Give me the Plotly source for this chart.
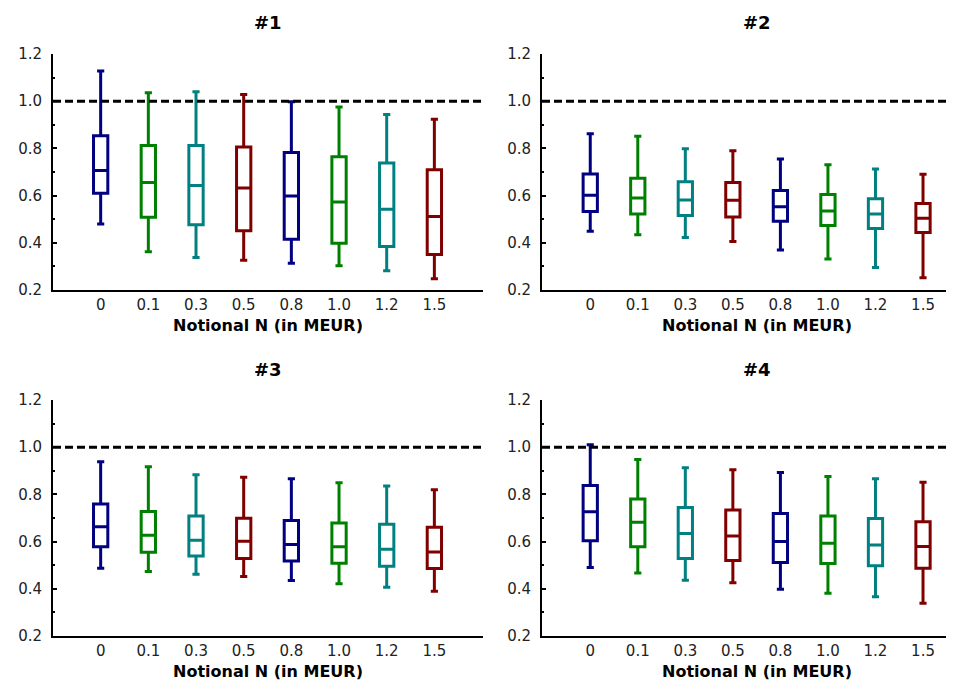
import plotly.graph_objects as go

categories = ["0", "0.1", "0.3", "0.5", "0.8", "1.0", "1.2", "1.5"]
colors = ["#000080", "#008000", "#008080", "#800000"] * 2

# panel 1
p1_upper = [1.128, 1.036, 1.040, 1.028, 0.998, 0.975, 0.944, 0.923]
p1_q3 = [0.854, 0.812, 0.812, 0.806, 0.783, 0.765, 0.738, 0.710]
p1_med = [0.706, 0.655, 0.643, 0.632, 0.598, 0.573, 0.542, 0.511]
p1_q1 = [0.610, 0.508, 0.477, 0.451, 0.415, 0.398, 0.384, 0.350]
p1_lower = [0.480, 0.362, 0.338, 0.326, 0.313, 0.303, 0.282, 0.248]

# panel 2
p2_upper = [0.862, 0.851, 0.799, 0.790, 0.755, 0.731, 0.713, 0.690]
p2_q3 = [0.692, 0.673, 0.659, 0.656, 0.622, 0.605, 0.587, 0.567]
p2_med = [0.601, 0.590, 0.581, 0.580, 0.553, 0.535, 0.522, 0.504]
p2_q1 = [0.533, 0.522, 0.516, 0.509, 0.491, 0.473, 0.461, 0.444]
p2_lower = [0.449, 0.434, 0.422, 0.406, 0.369, 0.331, 0.295, 0.252]

# panel 3
p3_upper = [0.938, 0.917, 0.883, 0.873, 0.866, 0.849, 0.836, 0.820]
p3_q3 = [0.759, 0.728, 0.708, 0.699, 0.689, 0.679, 0.674, 0.661]
p3_med = [0.663, 0.627, 0.606, 0.602, 0.588, 0.578, 0.568, 0.556]
p3_q1 = [0.578, 0.555, 0.539, 0.528, 0.518, 0.508, 0.496, 0.486]
p3_lower = [0.487, 0.473, 0.462, 0.452, 0.435, 0.421, 0.407, 0.390]

# panel 4
p4_upper = [1.010, 0.948, 0.913, 0.904, 0.893, 0.876, 0.866, 0.852]
p4_q3 = [0.838, 0.781, 0.744, 0.734, 0.719, 0.709, 0.698, 0.684]
p4_med = [0.727, 0.682, 0.634, 0.624, 0.600, 0.593, 0.586, 0.579]
p4_q1 = [0.604, 0.578, 0.528, 0.520, 0.511, 0.507, 0.498, 0.487]
p4_lower = [0.490, 0.467, 0.436, 0.426, 0.398, 0.381, 0.366, 0.339]

titles = ["#1", "#2", "#3", "#4"]
x_title = "Notional N (in MEUR)"
reference_level = 1.0

panels = [
    (p1_upper, p1_q3, p1_med, p1_q1, p1_lower),
    (p2_upper, p2_q3, p2_med, p2_q1, p2_lower),
    (p3_upper, p3_q3, p3_med, p3_q1, p3_lower),
    (p4_upper, p4_q3, p4_med, p4_q1, p4_lower),
]

W, H = 954, 683
FONT = "DejaVu Sans"
OFF = 8  # page body margin

def px_x(v):
    return (v - OFF) / W

def px_y(v):
    return 1 - (v - OFF) / H

fig = go.Figure()

x_doms = [(px_x(53), px_x(483)), (px_x(542), 1.0), (px_x(53), px_x(483)), (px_x(542), 1.0)]
y_doms = [(px_y(290), px_y(54)), (px_y(290), px_y(54)),
          (px_y(636), px_y(400)), (px_y(636), px_y(400))]
x_ranges = [[-1, 8.02], [-1.015, 7.82], [-1, 8.02], [-1.015, 7.82]]
title_x = [268, 757, 268, 757]
title_y = [23, 23, 369, 369]
xt_y = [325, 325, 671, 671]

for p, (up, q3, med, q1, lo) in enumerate(panels):
    xa = "x" if p == 0 else f"x{p+1}"
    ya = "y" if p == 0 else f"y{p+1}"
    for i, c in enumerate(categories):
        fig.add_trace(go.Box(
            x=[c], q1=[q1[i]], median=[med[i]], q3=[q3[i]],
            lowerfence=[lo[i]], upperfence=[up[i]],
            xaxis=xa, yaxis=ya,
            line=dict(color=colors[i], width=3),
            fillcolor="white", width=0.3, whiskerwidth=0.5,
            boxpoints=False, showlegend=False, hoverinfo="skip",
        ))
    fig.add_shape(type="line", xref=f"{xa} domain", yref=ya,
                  x0=0, x1=1, y0=reference_level, y1=reference_level,
                  line=dict(color="black", width=3, dash="8px,4px"))
    fig.add_annotation(text=f"<b>{titles[p]}</b>", xref="paper", yref="paper",
                       x=px_x(title_x[p]), y=px_y(title_y[p]), showarrow=False,
                       font=dict(family=FONT, size=18, color="black"),
                       xanchor="center", yanchor="middle")
    fig.add_annotation(text=f"<b>{x_title}</b>", xref="paper", yref="paper",
                       x=px_x(title_x[p]), y=px_y(xt_y[p]), showarrow=False,
                       font=dict(family=FONT, size=16, color="black"),
                       xanchor="center", yanchor="middle")

    key = "" if p == 0 else str(p + 1)
    fig.update_layout(**{
        f"xaxis{key}": dict(
            domain=list(x_doms[p]), anchor=ya, range=x_ranges[p],
            type="category", categoryorder="array", categoryarray=categories,
            showline=True, linecolor="black", linewidth=2, ticks="",
            showgrid=False, zeroline=False, automargin=False,
            tickfont=dict(family=FONT, size=15, color="#222"),
        ),
        f"yaxis{key}": dict(
            domain=list(y_doms[p]), anchor=xa, range=[0.2, 1.2],
            tickvals=[0.2, 0.4, 0.6, 0.8, 1.0, 1.2],
            ticktext=["0.2", "0.4", "0.6", "0.8", "1.0", "1.2"],
            showline=True, linecolor="black", linewidth=2,
            ticks="inside", ticklen=4, tickwidth=1.5, tickcolor="black",
            minor=dict(ticks="inside", ticklen=2, tickvals=[0.3, 0.5, 0.7, 0.9, 1.1],
                       tickcolor="black", tickwidth=1.5),
            showgrid=False, zeroline=False, ticklabelstandoff=6, automargin=False,
            tickfont=dict(family=FONT, size=15, color="#222"),
        ),
    })

fig.update_layout(
    width=W, height=H, margin=dict(l=0, r=0, t=0, b=0, autoexpand=False),
    plot_bgcolor="white", paper_bgcolor="white", boxmode="overlay",
    showlegend=False,
)

fig.write_html("out.html")
